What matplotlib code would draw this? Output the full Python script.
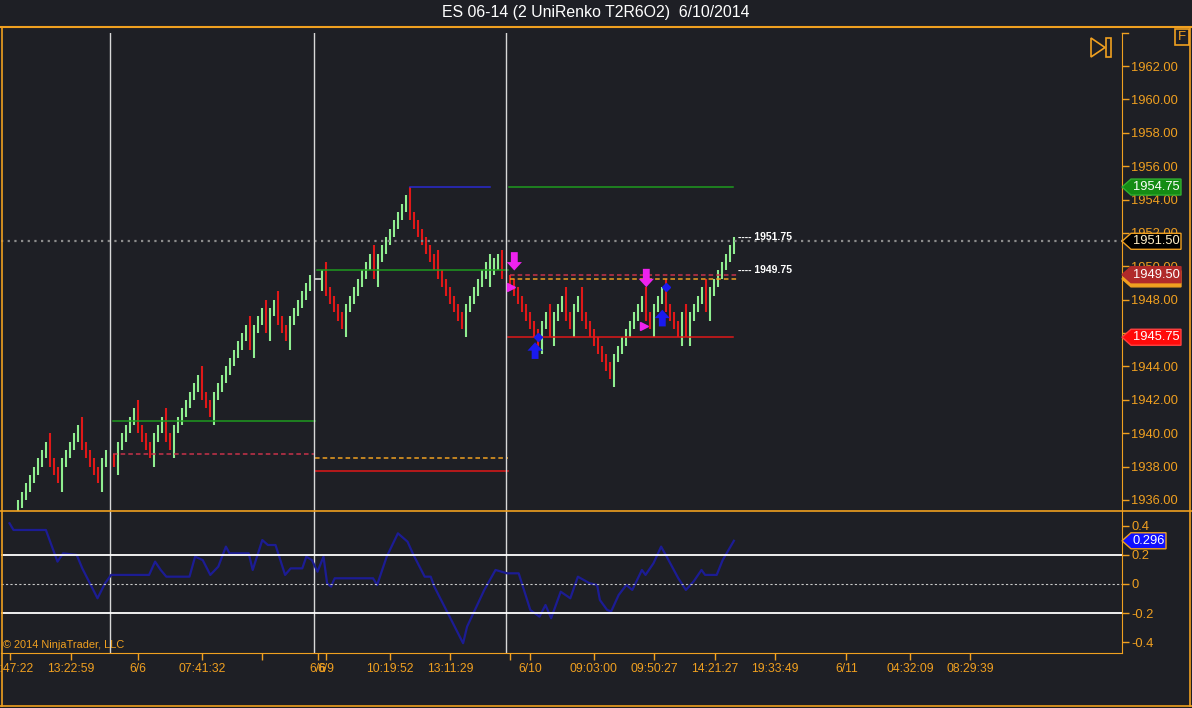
import numpy as np
import matplotlib
matplotlib.use('Agg')
import matplotlib.pyplot as plt
from matplotlib.patches import Polygon, Rectangle
from matplotlib.lines import Line2D
from matplotlib.transforms import IdentityTransform

plt.rcParams['font.family'] = ['Liberation Sans', 'DejaVu Sans']

nan = np.nan

# UniRenko bars, one slot per bar (nan = session break slot)
opens = [
    1935.0, 1935.5, 1936.0, 1936.5, 1937.0, 1937.5, 1938.0, 1938.5, 1940.0, 1938.5,
    1938.0, 1936.5, 1938.0, 1938.5, 1939.0, 1939.5, 1941.0, 1939.5, 1939.0, 1938.5,
    1938.0, 1936.5, 1938.0, nan, 1938.75, 1937.5, 1939.0, 1939.5, 1940.0, 1940.5,
    1942.0, 1940.5, 1940.0, 1939.5, 1938.0, 1939.5, 1940.0, 1941.5, 1940.0, 1938.5,
    1940.0, 1940.5, 1941.0, 1941.5, 1942.0, 1942.5, 1944.0, 1942.5, 1942.0, 1940.5,
    1942.0, 1942.5, 1943.0, 1943.5, 1944.0, 1944.5, 1945.0, 1945.5, 1947.0, 1944.5,
    1946.0, 1946.5, 1948.0, 1945.5, 1947.0, 1948.5, 1947.0, 1946.5, 1945.0, 1946.5,
    1947.0, 1947.5, 1948.0, 1948.5, nan, 1949.25, 1948.5, 1950.25, 1948.75, 1948.25,
    1947.75, 1947.25, 1945.75, 1947.25, 1947.75, 1948.25, 1948.75, 1949.25, 1949.75, 1951.25,
    1948.75, 1950.25, 1950.75, 1951.25, 1951.75, 1952.25, 1952.75, 1953.25, 1954.75, 1953.25,
    1952.75, 1952.25, 1951.75, 1951.25, 1950.75, 1951.0, 1949.75, 1949.25, 1948.75, 1948.25,
    1947.75, 1947.25, 1945.75, 1947.25, 1947.75, 1948.25, 1948.75, 1949.25, 1948.75, 1949.5,
    1949.75, 1951.0, nan, 1949.5, 1949.25, 1948.75, 1948.25, 1947.75, 1947.25, 1946.75,
    1946.25, 1944.75, 1946.25, 1947.75, 1945.25, 1946.75, 1947.25, 1948.75, 1947.25, 1945.75,
    1947.25, 1948.75, 1947.25, 1946.75, 1946.25, 1945.75, 1945.25, 1944.75, 1944.25, 1942.75,
    1944.25, 1944.75, 1945.25, 1945.75, 1946.25, 1946.75, 1947.25, 1948.75, 1947.25, 1945.75,
    1947.25, 1947.75, 1949.25, 1947.75, 1947.25, 1946.75, 1945.25, 1947.75, 1945.25, 1946.75,
    1947.25, 1947.75, 1949.25, 1946.75, 1948.25, 1948.75, 1949.25, 1949.75, 1950.25, 1950.75,
]
closes = [
    1936.0, 1936.5, 1937.0, 1937.5, 1938.0, 1938.5, 1939.0, 1939.5, 1938.0, 1937.5,
    1937.0, 1938.5, 1939.0, 1939.5, 1940.0, 1940.5, 1939.0, 1938.5, 1938.0, 1937.5,
    1937.0, 1938.5, 1939.0, nan, 1938.0, 1939.5, 1940.0, 1940.5, 1941.0, 1941.5,
    1940.0, 1939.5, 1939.0, 1938.5, 1940.0, 1940.5, 1941.0, 1939.5, 1939.0, 1940.5,
    1941.0, 1941.5, 1942.0, 1942.5, 1943.0, 1943.5, 1942.0, 1941.5, 1941.0, 1942.5,
    1943.0, 1943.5, 1944.0, 1944.5, 1945.0, 1945.5, 1946.0, 1946.5, 1945.0, 1946.5,
    1947.0, 1947.5, 1946.0, 1947.5, 1948.0, 1946.5, 1946.0, 1945.5, 1947.0, 1947.5,
    1948.0, 1948.5, 1949.0, 1949.5, nan, 1949.25, 1949.75, 1948.25, 1947.75, 1947.25,
    1946.75, 1946.25, 1947.75, 1948.25, 1948.75, 1949.25, 1949.75, 1950.25, 1950.75, 1949.25,
    1950.75, 1951.25, 1951.75, 1952.25, 1952.75, 1953.25, 1953.75, 1954.25, 1952.75, 1952.25,
    1951.75, 1951.25, 1950.75, 1950.25, 1949.75, 1949.25, 1948.75, 1948.25, 1947.75, 1947.25,
    1946.75, 1946.25, 1947.75, 1948.25, 1948.75, 1949.25, 1949.75, 1950.25, 1950.75, 1950.5,
    1950.75, 1949.25, nan, 1948.75, 1948.25, 1947.75, 1947.25, 1946.75, 1946.25, 1945.75,
    1945.25, 1946.75, 1947.25, 1945.75, 1947.25, 1947.75, 1948.25, 1946.75, 1946.25, 1947.75,
    1948.25, 1946.75, 1946.25, 1945.75, 1945.25, 1944.75, 1944.25, 1943.75, 1943.25, 1944.75,
    1945.25, 1945.75, 1946.25, 1946.75, 1947.25, 1947.75, 1948.25, 1946.75, 1946.25, 1947.75,
    1948.25, 1948.75, 1947.25, 1946.75, 1946.25, 1945.75, 1947.25, 1945.75, 1947.25, 1947.75,
    1948.25, 1948.75, 1947.25, 1948.75, 1949.25, 1949.75, 1950.25, 1950.75, 1951.25, 1951.75,
]

session_breaks = [23, 74, 122]
last_price = 1951.50

# price scale labels (1946.00 sits under the 1945.75 marker, not shown)
price_ticks = [1936, 1938, 1940, 1942, 1944, 1948, 1950, 1952, 1954, 1956, 1958, 1960, 1962]

# horizontal levels: price, start bar, end bar
levels = [
    (1940.75, 23.7, 74.2, 'green', '-'),
    (1938.75, 23.7, 74.2, 'crimson', '--'),
    (1949.75, 74.6, 122.4, 'green', '-'),
    (1938.50, 74.2, 122.4, 'orange', '--'),
    (1937.75, 74.2, 122.4, 'red', '-'),
    (1954.75, 98.0, 117.9, 'blue', '-'),
    (1954.75, 122.7, 178.7, 'green', '-'),
    (1949.50, 122.9, 179.6, 'crimson', '--'),
    (1949.25, 122.9, 179.6, 'orange', '--'),
    (1945.75, 122.4, 178.7, 'red', '-'),
]

# signals
down_arrows = [(124, 1950.85, 1949.75), (157, 1949.85, 1948.75)]
up_arrows = [(129.2, 1944.45, 1945.45), (161, 1946.4, 1947.4)]
blue_dots = [(130, 1945.78), (162, 1948.74)]
pink_tris = [(123.2, 1948.74), (156.3, 1946.44)]

# indicator (bar position, value)
ind_x = [-2.2, -1.2, 6.9, 9.8, 11.2, 14.6, 16.0, 19.8, 21.7, 23.2, 32.7, 34.2, 35.6, 37.0,
         42.8, 44.2, 46.1, 48.0, 50.0, 51.9, 52.8, 57.6, 58.6, 61.0, 62.4, 64.3, 66.7,
         68.1, 71.0, 72.0, 73.4, 74.8, 76.3, 77.2, 78.2, 79.1, 88.7, 89.7, 92.1, 94.9,
         97.3, 98.8, 101.6, 103.1, 104.0, 107.4, 111.2, 112.2, 116.5, 119.3, 122.2, 125.1,
         128.0, 130.3, 131.8, 133.2, 135.6, 138.0, 139.9, 142.8, 144.7, 145.4, 147.2,
         148.2, 150.1, 152.0, 153.5, 155.9, 156.8, 158.8, 160.7, 162.1, 165.0, 166.9,
         168.8, 170.8, 171.7, 174.6, 176.1, 178.9]
ind_v = [0.416, 0.370, 0.370, 0.153, 0.210, 0.199, 0.107, -0.098, 0.005, 0.062, 0.062,
         0.153, 0.096, 0.050, 0.050, 0.187, 0.164, 0.062, 0.119, 0.256, 0.210, 0.210,
         0.096, 0.301, 0.267, 0.267, 0.062, 0.107, 0.107, 0.187, 0.164, 0.084, 0.187,
         0.005, -0.018, 0.039, 0.039, -0.007, 0.187, 0.347, 0.290, 0.199, 0.050, 0.050,
         -0.018, -0.201, -0.406, -0.292, -0.041, 0.096, 0.073, 0.073, -0.178, -0.224,
         -0.144, -0.235, -0.053, -0.098, 0.050, 0.005, -0.007, -0.110, -0.178, -0.189,
         -0.075, -0.007, -0.041, 0.096, 0.062, 0.142, 0.256, 0.187, 0.039, -0.041, 0.016,
         0.096, 0.062, 0.062, 0.164, 0.296]
ind_last = 0.296

time_ticks = [-2.2, 13.1, 29.9, 45.9, 61.0, 75.0, 76.9, 93.0, 108.0, 122.9, 127.9,
              143.9, 158.9, 174.1, 189.1, 207.0, 222.9, 237.9]
time_labels = ['12:47:22', '13:22:59', '6/6', '07:41:32', '', '6/6', '6/9', '10:19:52',
               '13:11:29', '', '6/10', '09:03:00', '09:50:27', '14:21:27', '19:33:49',
               '6/11', '04:32:09', '08:29:39']

bg = '#1e1f25'
orange = '#f0a020'
col = {'green': '#1f9a1f', 'crimson': '#c8324a', 'orange': '#f0a020',
       'red': '#e01818', 'blue': '#2a2ad0'}

W, H = 1192, 708
fig = plt.figure(figsize=(W / 100, H / 100), dpi=100, facecolor=bg)
ax = fig.add_axes([1 / W, 197 / H, 1120.5 / W, 478 / H], facecolor=bg)
ax2 = fig.add_axes([1 / W, 55 / H, 1120.5 / W, 142 / H], facecolor=bg, sharex=ax)

ax.set_xlim(-4.325, 275.8)
ax.set_ylim(1935.34, 1963.98)
ax2.set_ylim(-0.473, 0.5)

# bars
x = np.arange(len(opens))
o = np.array(opens)
c = np.array(closes)
colors = np.where(c > o, '#90ee90', '#e01818')
ok = ~np.isnan(o) & (o != c)
ax.vlines(x[ok], np.minimum(o, c)[ok], np.maximum(o, c)[ok], colors=colors[ok], lw=1.5)
doji = ~np.isnan(o) & (o == c)
ax.plot(x[doji], c[doji], ls='none', marker='_', ms=4, mew=1.2, color='#d8d8d8')

for p, a, b, cc, ls in levels:
    ax.plot([a, b], [p, p], color=col[cc], ls=ls, lw=1.1,
            dashes=(3, 2) if ls == '--' else (None, None))

ax.axhline(last_price, color='#8c8c8c', lw=1.6, ls=(0, (1, 2)))

for s in session_breaks:
    ax.axvline(s, color='#d8d8d8', lw=1)
    ax2.axvline(s, color='#d8d8d8', lw=1)

arrow = 'simple,head_length=0.55,head_width=1.0,tail_width=0.45'
for i, a, b in down_arrows:
    ax.annotate('', xy=(i, b), xytext=(i, a),
                arrowprops=dict(arrowstyle=arrow, color='#ee22ee', mutation_scale=11,
                                shrinkA=0, shrinkB=0, lw=0))
for i, a, b in up_arrows:
    ax.annotate('', xy=(i, b), xytext=(i, a),
                arrowprops=dict(arrowstyle=arrow, color='#1a1aee', mutation_scale=11,
                                shrinkA=0, shrinkB=0, lw=0))
for i, p in blue_dots:
    ax.plot(i, p, marker='D', ms=4.5, color='#1a1aee')
for i, p in pink_tris:
    ax.plot(i, p, marker='>', ms=6, color='#ee22ee')

ax.text(180.0, 1951.75, '---- 1951.75', color='white', fontsize=7.5, fontweight='bold', va='center')
ax.text(180.0, 1949.75, '---- 1949.75', color='white', fontsize=7.5, fontweight='bold', va='center')

# indicator
ax2.plot(ind_x, ind_v, color='#1c1c94', lw=1.6)
ax2.axhline(0.2, color='white', lw=1.3)
ax2.axhline(-0.2, color='white', lw=1.3)
ax2.axhline(0, color='#c8c8c8', lw=0.8, dashes=(2, 2))

# axes styling
for a in (ax, ax2):
    for sp in a.spines.values():
        sp.set_visible(False)
    a.spines['right'].set_visible(True)
    a.spines['right'].set_color(orange)
    a.yaxis.tick_right()
    a.tick_params(axis='y', colors=orange, length=5, width=1, pad=2, labelsize=9.3)
ax2.spines['bottom'].set_visible(True)
ax2.spines['bottom'].set_color(orange)

ax.set_yticks(np.arange(1936, 1963, 2))
ax.set_yticklabels(['%.2f' % v if v in price_ticks else '' for v in np.arange(1936, 1963, 2)])
ax.tick_params(axis='x', bottom=False, labelbottom=False)
ax2.set_yticks([-0.4, -0.2, 0, 0.2, 0.4])
ax2.set_yticklabels(['-0.4', '-0.2', '0', '0.2', '0.4'])
ax2.set_xticks(time_ticks)
ax2.set_xticklabels(time_labels)
ax2.tick_params(axis='x', colors=orange, length=5, width=1, pad=2, labelsize=8.7)

# frame
fig.add_artist(Line2D([0, 1], [681 / H, 681 / H], color=orange, lw=1.5))
fig.add_artist(Line2D([0, 1], [197 / H, 197 / H], color=orange, lw=1.2))
fig.add_artist(Line2D([1.5 / W, 1.5 / W], [2 / H, 681 / H], color=orange, lw=1.2))
fig.add_artist(Line2D([0, 1], [2 / H, 2 / H], color=orange, lw=1.2))
fig.add_artist(Line2D([1190 / W, 1190 / W], [2 / H, 681 / H], color=orange, lw=1.2))
fig.add_artist(Line2D([1121.5 / W, 1128 / W], [675 / H, 675 / H], color=orange, lw=1))

fig.add_artist(Rectangle((1175 / W, 663 / H), 14 / W, 16 / H, fill=False, ec=orange, lw=1.2))
fig.text(1182 / W, 671 / H, 'F', color=orange, fontsize=9.5, ha='center', va='center')
fig.add_artist(Polygon([(1091 / W, 670 / H), (1091 / W, 651 / H), (1105 / W, 660.5 / H)],
                       closed=True, fill=False, ec=orange, lw=1.2))
fig.add_artist(Rectangle((1106 / W, 651 / H), 5 / W, 19 / H, fill=False, ec=orange, lw=1.2))

fig.text(0.5, 1 - 13 / H, 'ES 06-14 (2 UniRenko T2R6O2)  6/10/2014', color='white',
         fontsize=11.4, ha='center', va='center')
fig.text(3 / W, 1 - 645 / H, '\u00a9 2014 NinjaTrader, LLC', color=orange, fontsize=7.9,
         va='center')


def tag(axis, val, text, face, edge, tcol='white', right=1181):
    y = axis.transData.transform((0, val))[1]
    h = 8
    pts = [(1122, y), (1131, y + h), (right, y + h), (right, y - h), (1131, y - h)]
    fig.add_artist(Polygon(pts, closed=True, transform=IdentityTransform(),
                           facecolor=face, edgecolor=edge, lw=1))
    fig.text((1131 + right) / 2 / W, y / H, text, color=tcol, fontsize=9.3,
             ha='center', va='center')


tag(ax, 1954.75, '1954.75', '#148c14', '#30b030')
tag(ax, last_price, '1951.50', '#000000', orange, tcol='#fff0c8')
tag(ax, 1949.25, '', orange, orange)
tag(ax, 1949.50, '1949.50', '#b02a2a', '#b02a2a')
tag(ax, 1945.75, '1945.75', '#ff0a0a', '#ff4040')
tag(ax2, ind_last, '0.296', '#1010ff', orange, right=1166)

fig.savefig('out.png', dpi=100, facecolor=bg)
